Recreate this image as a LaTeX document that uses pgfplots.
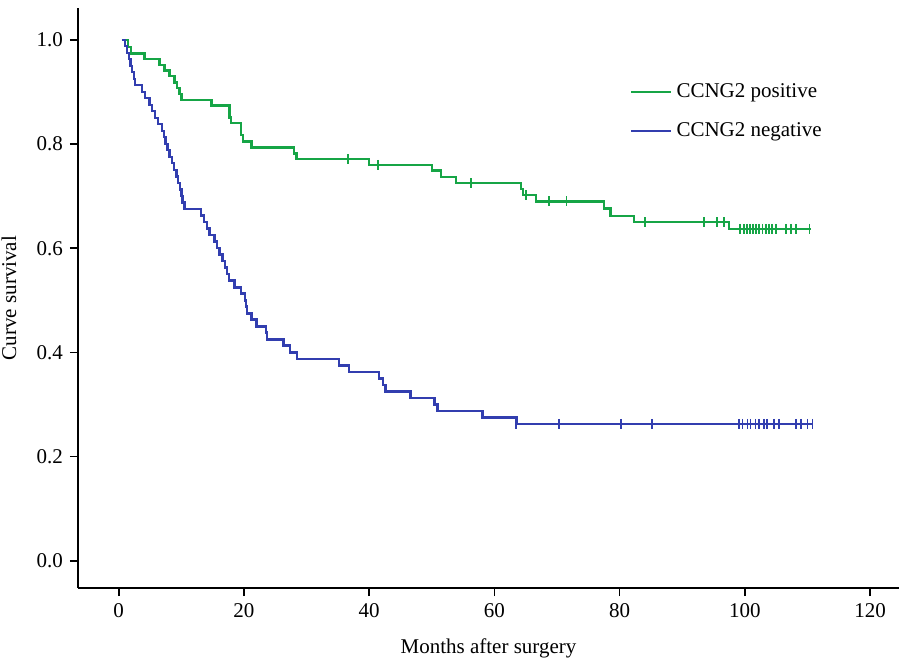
\documentclass[border=0pt]{standalone}
\usepackage{fontspec}
\setmainfont{Liberation Serif}
\usepackage{pgfplots}
\pgfplotsset{compat=1.18}
\definecolor{kmgreen}{RGB}{22,165,70}
\definecolor{kmblue}{RGB}{50,62,175}
\begin{document}
\begin{tikzpicture}
\begin{axis}[
  at={(0,0)}, anchor=south west,
  scale only axis, width=410.5pt, height=290pt,
  xmin=-6.5, xmax=124.6, ymin=-0.052, ymax=1.061,
  axis x line=bottom, axis y line=left,
  axis line style={-, line width=1pt, black},
  tick align=outside, major tick length=4pt,
  tick style={line width=0.8pt, black},
  xtick={0,20,...,120}, ytick={0,0.2,0.4,0.6,0.8,1.0},
  yticklabel style={/pgf/number format/.cd, fixed, fixed zerofill, precision=1},
  /pgf/number format/assume math mode=true,
  tick label style={font=\fontsize{10.5pt}{12pt}\selectfont},
  label style={font=\fontsize{10.5pt}{12pt}\selectfont},
  xlabel={Months after surgery}, ylabel={Curve survival},
  xlabel style={at={(axis description cs:0.5,-0.1034)}, anchor=center},
  ylabel style={at={(axis description cs:-0.084,0.5)}, anchor=center},
  legend style={at={(rel axis cs:0.672,0.877)}, anchor=north west, draw=none, fill=none,
    font=\fontsize{10.5pt}{12pt}\selectfont, row sep=7pt, inner sep=0pt},
  legend cell align=left,
  legend image code/.code={\draw[#1] (0pt,0pt) -- (20pt,0pt);},
]
\addplot[kmgreen, line width=1.2pt, const plot, mark=none] table {
x y
0.5 1.000
1.5 0.986
2.0 0.974
4.1 0.963
6.5 0.952
7.3 0.941
8.1 0.930
8.9 0.918
9.3 0.907
9.7 0.896
10.0 0.885
14.8 0.874
17.7 0.851
17.9 0.840
19.5 0.817
19.8 0.805
21.2 0.793
28.0 0.782
28.4 0.771
40.0 0.760
50.0 0.749
51.5 0.737
53.9 0.725
64.2 0.714
64.6 0.702
66.6 0.690
77.5 0.676
78.5 0.662
82.3 0.650
97.5 0.637
110.5 0.637
};
\addlegendentry{CCNG2 positive}
\addplot[kmblue, line width=1.2pt, const plot, mark=none] table {
x y
0.5 1.000
1.0 0.988
1.3 0.975
1.6 0.963
1.9 0.950
2.1 0.938
2.4 0.925
2.6 0.913
3.7 0.900
4.2 0.888
4.9 0.875
5.3 0.863
5.8 0.850
6.3 0.838
6.9 0.825
7.2 0.813
7.5 0.800
7.8 0.788
8.1 0.775
8.5 0.763
8.8 0.750
9.2 0.738
9.5 0.725
9.8 0.713
10.0 0.700
10.2 0.688
10.5 0.675
13.1 0.663
13.6 0.650
14.1 0.638
14.5 0.625
15.3 0.613
15.7 0.600
16.1 0.588
16.6 0.575
17.0 0.563
17.3 0.550
17.6 0.538
18.5 0.525
19.5 0.513
20.2 0.500
20.3 0.488
20.5 0.475
21.2 0.463
22.0 0.450
23.5 0.438
23.7 0.425
26.3 0.413
27.4 0.400
28.5 0.388
35.2 0.375
36.8 0.363
41.6 0.350
42.2 0.338
42.6 0.325
46.6 0.313
50.4 0.300
50.9 0.288
58.1 0.275
63.5 0.263
110.8 0.263
};
\addlegendentry{CCNG2 negative}
\addplot[kmgreen, only marks, mark=|, mark size=2.5pt, mark options={line width=0.9pt}, forget plot] table {
x y
36.6 0.771
41.4 0.760
56.2 0.725
65.0 0.702
68.7 0.690
71.5 0.690
84.0 0.650
93.5 0.650
95.6 0.650
96.7 0.650
99.2 0.637
99.8 0.637
100.3 0.637
100.8 0.637
101.3 0.637
101.8 0.637
102.3 0.637
102.8 0.637
103.3 0.637
103.8 0.637
104.3 0.637
105.0 0.637
106.5 0.637
107.3 0.637
108.1 0.637
110.3 0.637
};
\addplot[kmblue, only marks, mark=|, mark size=2.5pt, mark options={line width=0.9pt}, forget plot] table {
x y
63.5 0.263
70.3 0.263
80.2 0.263
85.2 0.263
99.0 0.263
99.6 0.263
100.4 0.263
100.9 0.263
101.7 0.263
102.2 0.263
103.0 0.263
103.5 0.263
104.6 0.263
105.4 0.263
108.1 0.263
108.9 0.263
110.0 0.263
110.8 0.263
};
\end{axis}
\pgfresetboundingbox
\path[use as bounding box] (-39pt,-36pt) rectangle (411.5pt,294pt);
\end{tikzpicture}
\end{document}
